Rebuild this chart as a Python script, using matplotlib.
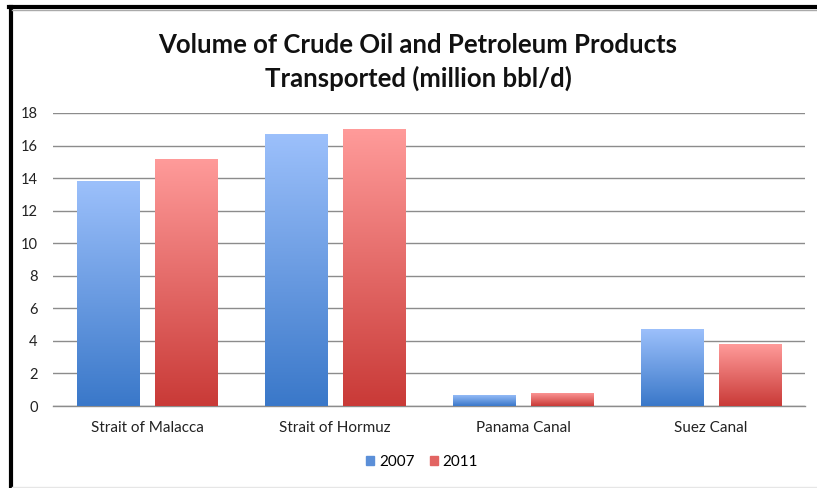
import matplotlib
matplotlib.use("Agg")
import matplotlib.pyplot as plt
import numpy as np
from matplotlib.colors import LinearSegmentedColormap
from matplotlib.patches import Rectangle
from matplotlib.lines import Line2D

categories = ["Strait of Malacca", "Strait of Hormuz", "Panama Canal", "Suez Canal"]
series_names = ["2007", "2011"]
values_2007 = [13.8, 16.7, 0.7, 4.7]
values_2011 = [15.2, 17.0, 0.8, 3.8]
yticks = [0, 2, 4, 6, 8, 10, 12, 14, 16, 18]

plt.rcParams['font.family'] = ['Lato', 'DejaVu Sans']

W, H = 817, 488
fig = plt.figure(figsize=(W / 100, H / 100), dpi=100)
ax = fig.add_axes([53 / W, (H - 406) / H, (805 - 53) / W, (406 - 113) / H])

x = np.arange(len(categories))
bw = 0.33
off = 0.2075

grads = [
    LinearSegmentedColormap.from_list("b", ["#3a78c9", "#9cc0fb"]),
    LinearSegmentedColormap.from_list("r", ["#c93a37", "#ff9b9a"]),
]
solid = ["#5b8fd8", "#e26462"]

for si, vals in enumerate([values_2007, values_2011]):
    bars = ax.bar(x + (off if si else -off), vals, bw, color="none", edgecolor="none", zorder=3)
    for b in bars:
        x0, y0 = b.get_x(), b.get_y()
        w, h = b.get_width(), b.get_height()
        grad = np.linspace(0, 1, 256).reshape(-1, 1)
        im = ax.imshow(grad, cmap=grads[si], origin="lower", aspect="auto",
                       extent=[x0, x0 + w, y0, y0 + h], zorder=3)
        clip = Rectangle((x0, y0), w, h, transform=ax.transData, fill=False, edgecolor="none")
        ax.add_patch(clip)
        im.set_clip_path(clip)

ax.set_xlim(-0.5, len(categories) - 0.5)
ax.set_ylim(0, 18)
ax.set_yticks(yticks)
ax.set_yticklabels([str(t) for t in yticks], fontsize=10.5, color="#222222")
ax.set_xticks(x)
ax.set_xticklabels(categories, fontsize=11, color="#222222")
ax.tick_params(axis="y", length=0, pad=11)
ax.tick_params(axis="x", length=0, pad=11)
ax.grid(axis="y", color="#8c8c8c", linewidth=1.0, zorder=0)
ax.set_axisbelow(True)
for s in ["top", "right", "left"]:
    ax.spines[s].set_visible(False)
ax.spines["bottom"].set_color("#8c8c8c")
ax.spines["bottom"].set_linewidth(1.0)

fig.text(418 / W, 1 - 45 / H, "Volume of Crude Oil and Petroleum Products",
         ha="center", va="center", fontsize=18.5, fontweight="bold", color="#111111")
fig.text(418 / W, 1 - 78 / H, "Transported (million bbl/d)",
         ha="center", va="center", fontsize=18.5, fontweight="bold", color="#111111")

handles = [Rectangle((0, 0), 1, 1, color=solid[0]), Rectangle((0, 0), 1, 1, color=solid[1])]
fig.legend(handles, series_names, loc="center", bbox_to_anchor=(422 / W, 1 - 462 / H),
           ncol=2, frameon=False, fontsize=11, handlelength=0.55, handleheight=0.55,
           handletextpad=0.3, columnspacing=1.0)

# frame lines (left and top black border)
fig.add_artist(Line2D([10.5 / W, 10.5 / W], [0, 1 - 7 / H], transform=fig.transFigure,
                      color="black", linewidth=3))
fig.add_artist(Line2D([9 / W, 1], [1 - 7 / H, 1 - 7 / H], transform=fig.transFigure,
                      color="black", linewidth=3))
fig.add_artist(Line2D([12 / W, 1], [1 - 9.5 / H, 1 - 9.5 / H], transform=fig.transFigure,
                      color="#aaaaaa", linewidth=1))
fig.add_artist(Line2D([12 / W, 1], [0.8 / H, 0.8 / H], transform=fig.transFigure,
                      color="#e6e6e6", linewidth=1))

fig.savefig("out.png", dpi=100)
